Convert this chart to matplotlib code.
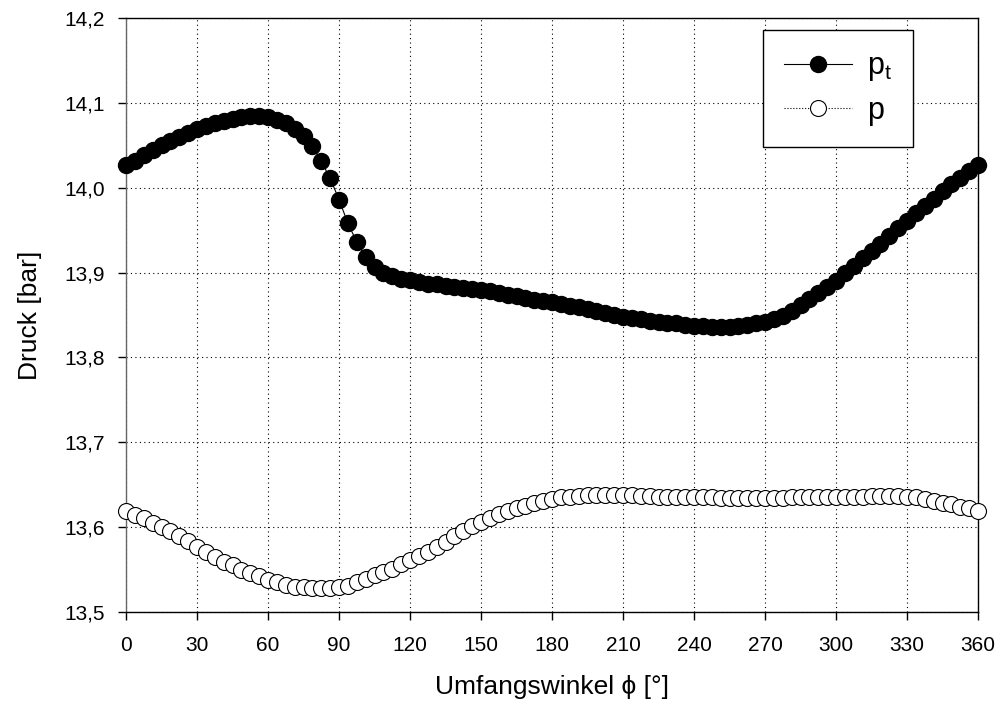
import matplotlib
matplotlib.use("Agg")
import matplotlib.pyplot as plt
from matplotlib.ticker import FuncFormatter

# angle step 3.75 deg, 0..360
winkel = [i * 3.75 for i in range(97)]

p_t = [14.027, 14.032, 14.038, 14.044, 14.050, 14.055, 14.060, 14.065, 14.069,
       14.073, 14.076, 14.079, 14.081, 14.083, 14.084, 14.084, 14.083, 14.080,
       14.076, 14.069, 14.061, 14.049, 14.031, 14.011, 13.986, 13.958, 13.936,
       13.918, 13.907, 13.900, 13.896, 13.893, 13.891, 13.889, 13.887, 13.886,
       13.884, 13.883, 13.882, 13.881, 13.879, 13.878, 13.876, 13.874, 13.872,
       13.870, 13.868, 13.867, 13.865, 13.863, 13.861, 13.859, 13.857, 13.855,
       13.852, 13.850, 13.848, 13.846, 13.845, 13.843, 13.842, 13.841, 13.840,
       13.838, 13.837, 13.837, 13.836, 13.836, 13.836, 13.837, 13.838, 13.840,
       13.842, 13.845, 13.849, 13.855, 13.862, 13.869, 13.876, 13.883, 13.890,
       13.899, 13.908, 13.917, 13.926, 13.934, 13.943, 13.952, 13.961, 13.970,
       13.979, 13.987, 13.996, 14.004, 14.012, 14.020, 14.027]

p = [13.619, 13.614, 13.611, 13.605, 13.600, 13.595, 13.590, 13.584, 13.577,
     13.571, 13.565, 13.559, 13.555, 13.550, 13.546, 13.542, 13.538, 13.535,
     13.532, 13.530, 13.529, 13.528, 13.528, 13.528, 13.529, 13.531, 13.535,
     13.539, 13.543, 13.547, 13.551, 13.556, 13.561, 13.566, 13.571, 13.577,
     13.583, 13.589, 13.595, 13.601, 13.606, 13.611, 13.615, 13.619, 13.622,
     13.625, 13.628, 13.631, 13.633, 13.635, 13.636, 13.637, 13.638, 13.638,
     13.638, 13.638, 13.638, 13.638, 13.637, 13.637, 13.636, 13.636, 13.636,
     13.635, 13.635, 13.635, 13.635, 13.634, 13.634, 13.634, 13.634, 13.634,
     13.634, 13.634, 13.634, 13.635, 13.635, 13.635, 13.635, 13.635, 13.636,
     13.636, 13.636, 13.636, 13.637, 13.637, 13.637, 13.637, 13.636, 13.635,
     13.633, 13.631, 13.629, 13.627, 13.624, 13.622, 13.619]

xticks = list(range(0, 361, 30))
yticks = [13.5, 13.6, 13.7, 13.8, 13.9, 14.0, 14.1, 14.2]

plt.rcParams['font.family'] = ['Liberation Sans', 'DejaVu Sans']

fig = plt.figure(figsize=(9.98, 7.21), dpi=100)
ax = fig.add_axes([0.1263, 0.1512, 0.8537, 0.8238])

ax.plot(winkel, p_t, '-', color='black', lw=0.8, marker='o', ms=11.5,
        mfc='black', mec='black', clip_on=False, label=r'$\mathregular{p_t}$', zorder=3)
ax.plot(winkel, p, ':', color='black', lw=0.8, marker='o', ms=11.5,
        mfc='white', mec='black', mew=0.8, clip_on=False, label='p', zorder=3)

ax.set_xlim(0, 360)
ax.set_ylim(13.5, 14.2)
ax.set_xticks(xticks)
ax.set_yticks(yticks)
ax.yaxis.set_major_formatter(FuncFormatter(lambda v, pos: f"{v:.1f}".replace('.', ',')))
ax.tick_params(direction='out', length=6, width=1, pad=9, labelsize=15)
ax.tick_params(axis='x', pad=11)
ax.grid(True, color='black', linestyle=(0, (1, 3)), lw=0.8)
ax.set_axisbelow(True)
for s in ax.spines.values():
    s.set_linewidth(1)
    s.set_color('black')
ax.spines['left'].set_color('#666666')

ax.set_xlabel('Umfangswinkel \u03d5 [°]', fontsize=19, labelpad=15)
ax.set_ylabel('Druck [bar]', fontsize=19, labelpad=16)

leg = ax.legend(loc='upper right', bbox_to_anchor=(0.924, 0.98), borderaxespad=0,
                fontsize=22, handlelength=2.2, handletextpad=0.5, borderpad=0.7,
                fancybox=False, framealpha=1, edgecolor='black', labelspacing=0.4)
leg.get_frame().set_linewidth(1)

fig.savefig('out.png', dpi=100)
